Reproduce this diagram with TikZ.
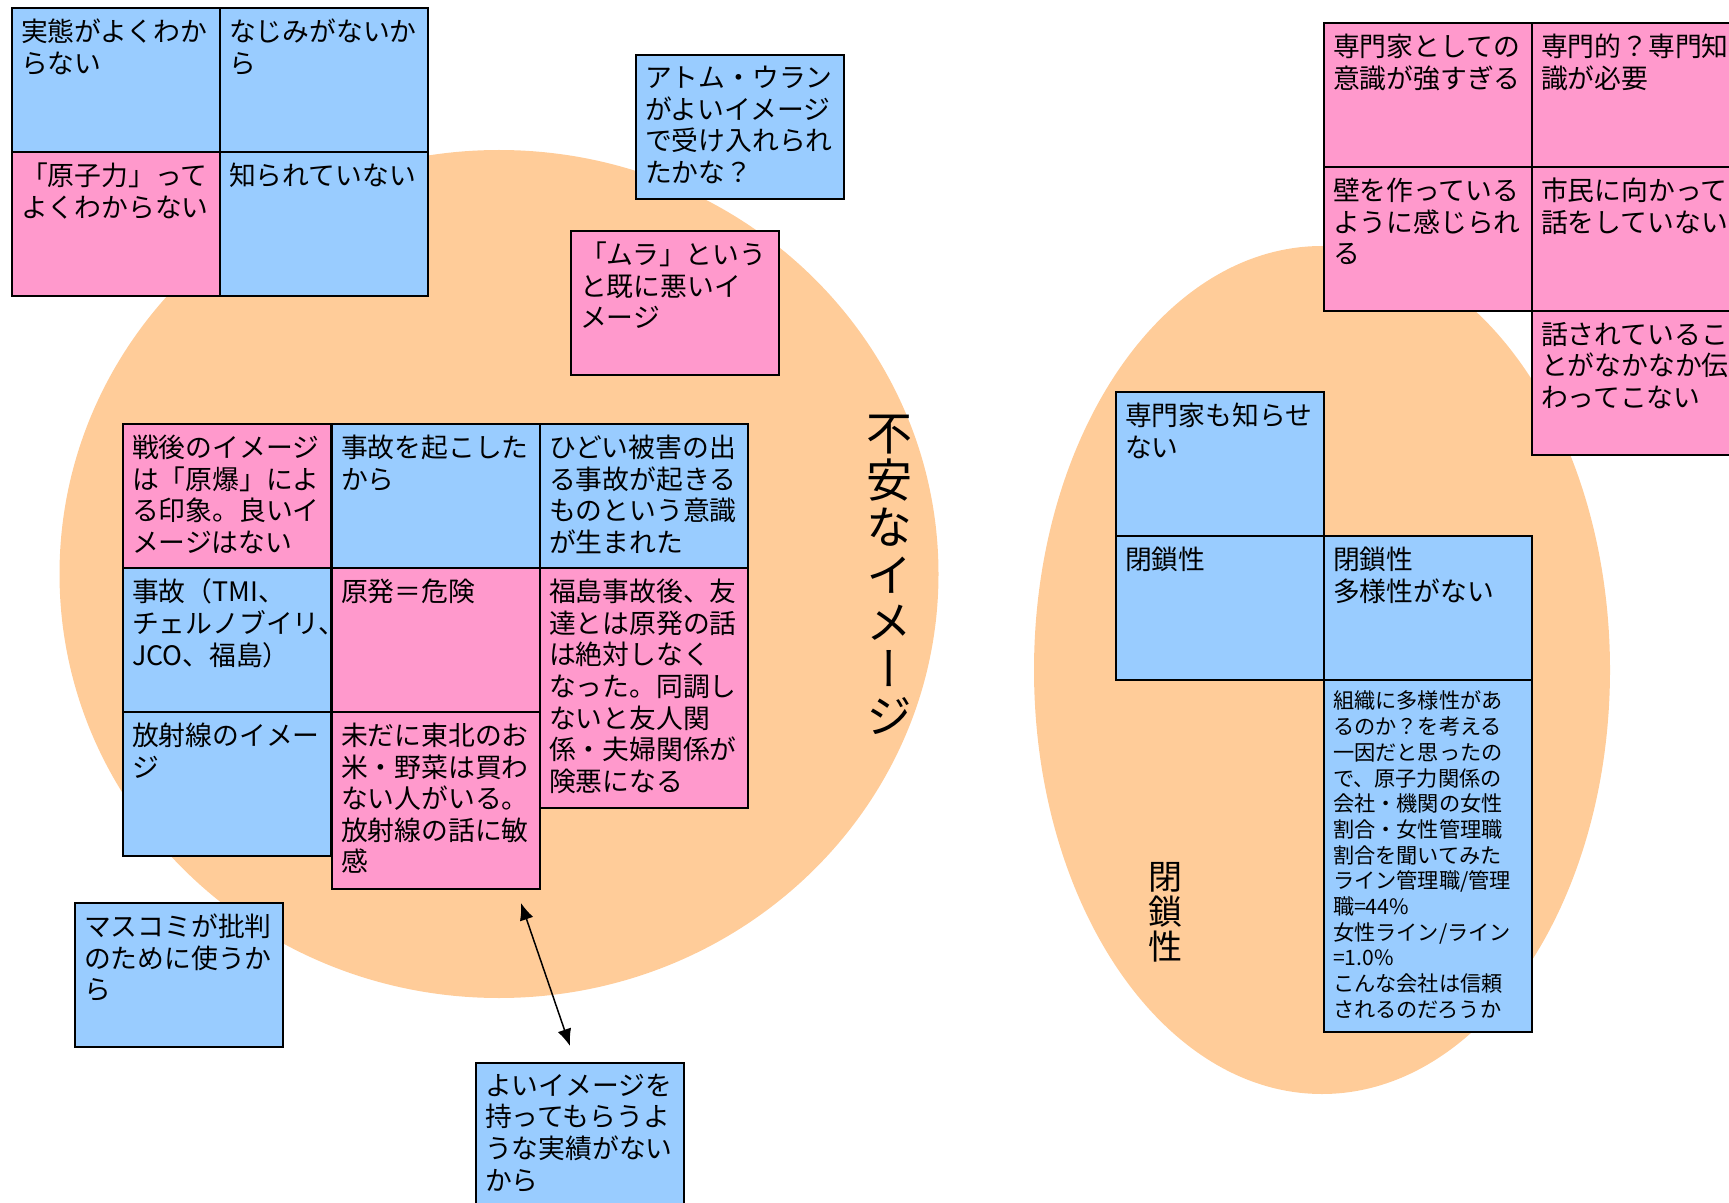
\documentclass[tikz,border=0pt]{standalone}
\usepackage{fontspec}
\setmainfont{Noto Sans CJK JP}
\newfontfamily\vertfont{Noto Sans CJK JP}[RawFeature=+vert]
\usetikzlibrary{arrows.meta}
\definecolor{blue}{RGB}{153,204,255}
\definecolor{pink}{RGB}{255,153,204}
\definecolor{orange}{RGB}{255,204,153}
\newcommand{\card}[2][61pt]{\parbox[t][#1][t]{95pt}{#2}}

\begin{document}
\begin{tikzpicture}[x=0.5pt,y=-0.5pt,>={Latex[length=8.5pt,width=7pt]},
  box/.style={draw,line width=1pt,anchor=north west,inner xsep=4.5pt,inner ysep=5.5pt,font=\fontsize{13.4pt}{15.8pt}\selectfont},
  bl/.style={box,fill=blue}, pk/.style={box,fill=pink}]

\useasboundingbox (0,0) rectangle (1729,1203);
\clip (0,0) rectangle (1729,1203);

\fill[orange] (499,574) ellipse [x radius=219.75pt, y radius=212pt];
\fill[orange] (1322,670) ellipse [x radius=144pt, y radius=212pt];

\node[bl] (jittai) at (11,7) {\card{実態がよくわか\\らない}};
\node[bl] (najimi) at (219,7) {\card{なじみがないか\\ら}};
\node[pk] (genshiryoku) at (11,151) {\card{「原子力」って\\よくわからない}};
\node[bl] (shirarete) at (219,151) {\card{知られていない}};

\node[bl] (atom) at (635,54) {\card{アトム・ウラン\\がよいイメージ\\で受け入れられ\\たかな？}};
\node[pk] (mura) at (570,230) {\card{「ムラ」という\\と既に悪いイ\\メージ}};

\node[pk] (sengo) at (122,423) {\card{戦後のイメージ\\は「原爆」によ\\る印象。良いイ\\メージはない}};
\node[bl] (jiko) at (331,423) {\card{事故を起こした\\から}};
\node[bl] (higai) at (539,423) {\card{ひどい被害の出\\る事故が起きる\\ものという意識\\が生まれた}};
\node[bl] (tmi) at (122,567) {\card{事故（TMI、\\チェルノブイリ、\\JCO、福島）}};
\node[pk] (kiken) at (331,567) {\card{原発＝危険}};
\node[pk] (tomodachi) at (539,567) {\card[109pt]{福島事故後、友\\達とは原発の話\\は絶対しなく\\なった。同調し\\ないと友人関\\係・夫婦関係が\\険悪になる}};
\node[bl] (hoshasen) at (122,711) {\card{放射線のイメー\\ジ}};
\node[pk] (tohoku) at (331,711) {\card[77.5pt]{未だに東北のお\\米・野菜は買わ\\ない人がいる。\\放射線の話に敏\\感}};

\node[inner sep=0pt,align=center,font=\vertfont\fontsize{23pt}{23.6pt}\selectfont] (fuan) at (889,575) {不\\安\\な\\イ\\メ\\ー\\ジ};

\node[bl] (masukomi) at (74,902) {\card{マスコミが批判\\のために使うか\\ら}};
\node[bl] (jisseki) at (475,1062) {\card{よいイメージを\\持ってもらうよ\\うな実績がない\\から}};

\coordinate (up) at (521,903);
\coordinate (down) at (570,1046);
\draw[<->,line width=0.75pt] (up) -- (down);

\node[pk] (ishiki) at (1323,22) {\card{専門家としての\\意識が強すぎる}};
\node[pk] (chishiki) at (1531,22) {\card{専門的？専門知\\識が必要}};
\node[pk] (kabe) at (1323,166) {\card{壁を作っている\\ように感じられ\\る}};
\node[pk] (shimin) at (1531,166) {\card{市民に向かって\\話をしていない}};
\node[pk] (tsutawaru) at (1531,310) {\card{話されているこ\\とがなかなか伝\\わってこない}};

\node[bl] (senmonka) at (1115,391) {\card{専門家も知らせ\\ない}};
\node[bl] (heisa) at (1115,535) {\card{閉鎖性}};
\node[bl] (tayosei) at (1323,535) {\card{閉鎖性\\多様性がない}};
\node[bl,font=\fontsize{10.6pt}{12.85pt}\selectfont] (soshiki) at (1323,679) {\card[165pt]{組織に多様性があ\\るのか？を考える\\一因だと思ったの\\で、原子力関係の\\会社・機関の女性\\割合・女性管理職\\割合を聞いてみた\\ライン管理職/管理\\職=44\%\\女性ライン/ライン\\=1.0\%\\こんな会社は信頼\\されるのだろうか}};

\node[inner sep=0pt,align=center,font=\fontsize{17pt}{17.5pt}\selectfont] (heisalabel) at (1165,912) {閉\\鎖\\性};
\end{tikzpicture}
\end{document}
